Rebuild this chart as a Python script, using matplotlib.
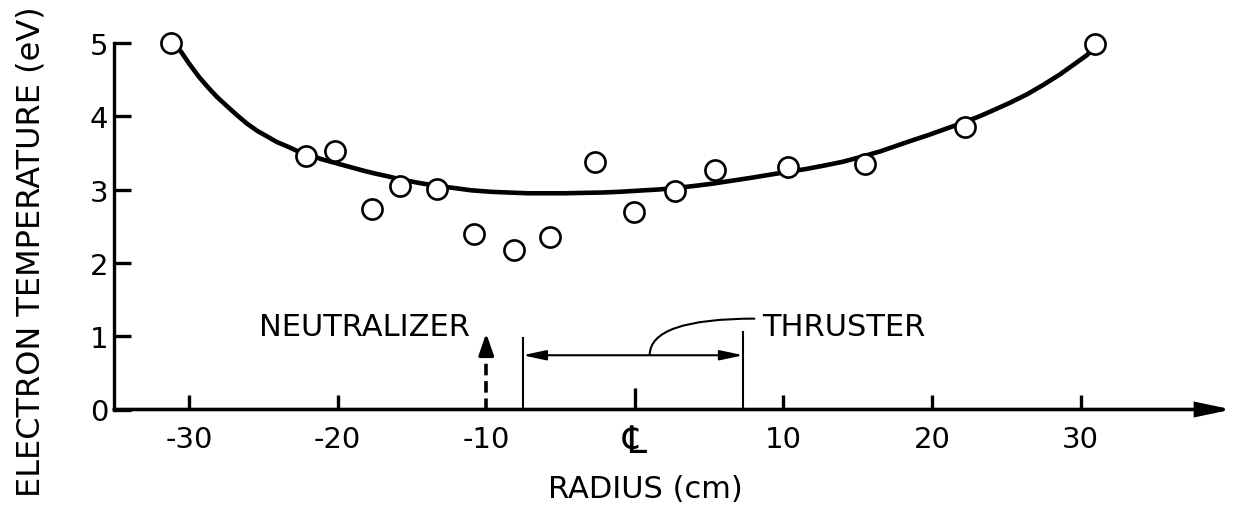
import matplotlib
matplotlib.use("Agg")
import matplotlib.pyplot as plt
from matplotlib.path import Path
from matplotlib.patches import PathPatch

# ---- data ----
radius_cm = [-31.2, -22.1, -20.2, -17.7, -15.8, -13.3, -10.8, -8.1, -5.7,
             -2.7, -0.05, 2.7, 5.4, 10.3, 15.5, 22.2, 31.0]
temp_ev = [5.0, 3.46, 3.53, 2.74, 3.05, 3.01, 2.40, 2.18, 2.36,
           3.38, 2.69, 2.98, 3.27, 3.31, 3.35, 3.86, 4.99]

fit_x = [-31.0, -30.5, -30.0, -29.3, -28.7, -28.1, -27.4, -26.8, -26.1, -25.4,
         -24.7, -24.1, -23.4, -22.75, -21.9, -21.0, -20.1, -19.2, -18.3, -17.5,
         -16.6, -15.8, -14.5, -13.3, -12.1, -11.0, -9.7, -8.5, -7.2, -6.0,
         -4.7, -3.5, -2.2, -1.0, 0.2, 1.5, 2.7, 4.0, 5.2, 6.5, 7.8, 9.0, 10.2,
         11.5, 12.8, 14.0, 15.3, 16.5, 17.5, 18.5, 19.7, 20.8, 21.5, 22.3,
         23.2, 24.1, 25.2, 26.4, 27.5, 28.6, 29.5, 30.4, 31.0]
fit_y = [5.0, 4.87, 4.72, 4.53, 4.39, 4.26, 4.13, 4.02, 3.90, 3.80,
         3.72, 3.65, 3.59, 3.53, 3.47, 3.41, 3.36, 3.31, 3.26, 3.22,
         3.18, 3.14, 3.09, 3.05, 3.02, 2.99, 2.97, 2.96, 2.95, 2.95,
         2.95, 2.955, 2.96, 2.97, 2.985, 3.00, 3.02, 3.05, 3.08, 3.12, 3.16, 3.20, 3.24,
         3.28, 3.33, 3.38, 3.45, 3.52, 3.59, 3.66, 3.74, 3.82, 3.87, 3.93,
         4.00, 4.08, 4.18, 4.30, 4.43, 4.57, 4.70, 4.83, 4.95]

x_ticks = [-30, -20, -10, 0, 10, 20, 30]
x_ticklabels = ["-30", "-20", "-10", "", "10", "20", "30"]
y_ticks = [0, 1, 2, 3, 4, 5]
y_ticklabels = ["0", "1", "2", "3", "4", "5"]

neutralizer_x = -10.0
thruster_left = -7.55
thruster_right = 7.3

FONT = "DejaVu Sans"
plt.rcParams["font.family"] = [FONT]

W, H = 1236, 506
fig = plt.figure(figsize=(W / 100, H / 100), dpi=100)
ax_left_px, ax_right_px = 114, 1232
ax_bottom_px, ax_top_px = 410.5, 22
ax = fig.add_axes([ax_left_px / W, (H - ax_bottom_px) / H,
                   (ax_right_px - ax_left_px) / W, (ax_bottom_px - ax_top_px) / H])
XMIN, XMAX = -35.05, 40.19
ax.set_xlim(XMIN, XMAX)
ax.set_ylim(0, 5.3)

# spines
for s in ["top", "right", "bottom"]:
    ax.spines[s].set_visible(False)
ax.spines["left"].set_linewidth(2.4)
ax.spines["left"].set_bounds(0, 5)

# x axis as arrow
ax.annotate("", xy=(XMAX, 0), xytext=(XMIN, 0), xycoords="data",
            arrowprops=dict(arrowstyle="-|>,head_length=2.0,head_width=0.42",
                            lw=2.6, color="black", shrinkA=0, shrinkB=0,
                            joinstyle="miter"),
            annotation_clip=False, zorder=2)

ax.set_xticks(x_ticks)
ax.set_xticklabels(x_ticklabels)
ax.set_yticks(y_ticks)
ax.set_yticklabels(y_ticklabels)
ax.tick_params(axis="x", direction="in", length=11, width=2.4, pad=11,
               labelsize=21)
ax.tick_params(axis="y", direction="in", length=12, width=2.4, pad=4,
               labelsize=21)
ticks = ax.xaxis.get_major_ticks()
ticks[3].tick1line.set_markersize(16)
ticks[2].tick1line.set_visible(False)

# centre-line symbol
ax.text(0.0, -0.44, "\u2104", fontsize=27, ha="center", va="center")

# fitted curve and measured points
ax.plot(fit_x, fit_y, color="black", lw=3.3, solid_capstyle="round",
        solid_joinstyle="round", zorder=3)
ax.plot(radius_cm, temp_ev, "o", ms=14.5, mfc="white", mec="black", mew=1.9,
        zorder=5, clip_on=False)

# neutralizer arrow
ax.plot([neutralizer_x, neutralizer_x], [0, 0.78], color="black", lw=2.6,
        ls=(0, (3.2, 1.6)), zorder=4)
ax.annotate("", xy=(neutralizer_x, 1.04), xytext=(neutralizer_x, 0.74),
            arrowprops=dict(arrowstyle="-|>,head_length=1.3,head_width=0.45",
                            lw=2.4, color="black", shrinkA=0, shrinkB=0))
ax.text(-11.1, 1.13, "NEUTRALIZER", fontsize=22, ha="right", va="center")

# thruster extent
ax.plot([thruster_left, thruster_left], [0, 0.98], color="black", lw=1.5, zorder=4)
ax.plot([thruster_right, thruster_right], [0, 1.06], color="black", lw=1.5, zorder=4)
ax.annotate("", xy=(thruster_right, 0.74), xytext=(thruster_left, 0.74),
            arrowprops=dict(arrowstyle="<|-|>,head_length=1.4,head_width=0.3",
                            lw=1.5, color="black", shrinkA=0, shrinkB=0))
leader = Path([(1.0, 0.74), (1.0, 1.24), (8.1, 1.24)],
              [Path.MOVETO, Path.CURVE3, Path.CURVE3])
ax.add_patch(PathPatch(leader, fc="none", ec="black", lw=1.5))
ax.text(8.6, 1.13, "THRUSTER", fontsize=22, ha="left", va="center")

# axis titles
fig.text(645 / W, (H - 490) / H, "RADIUS (cm)", fontsize=22,
         ha="center", va="center")
fig.text(31 / W, (H - 252) / H, "ELECTRON TEMPERATURE (eV)", fontsize=23,
         ha="center", va="center", rotation=90)

fig.savefig("out.png", dpi=100, facecolor="white")
